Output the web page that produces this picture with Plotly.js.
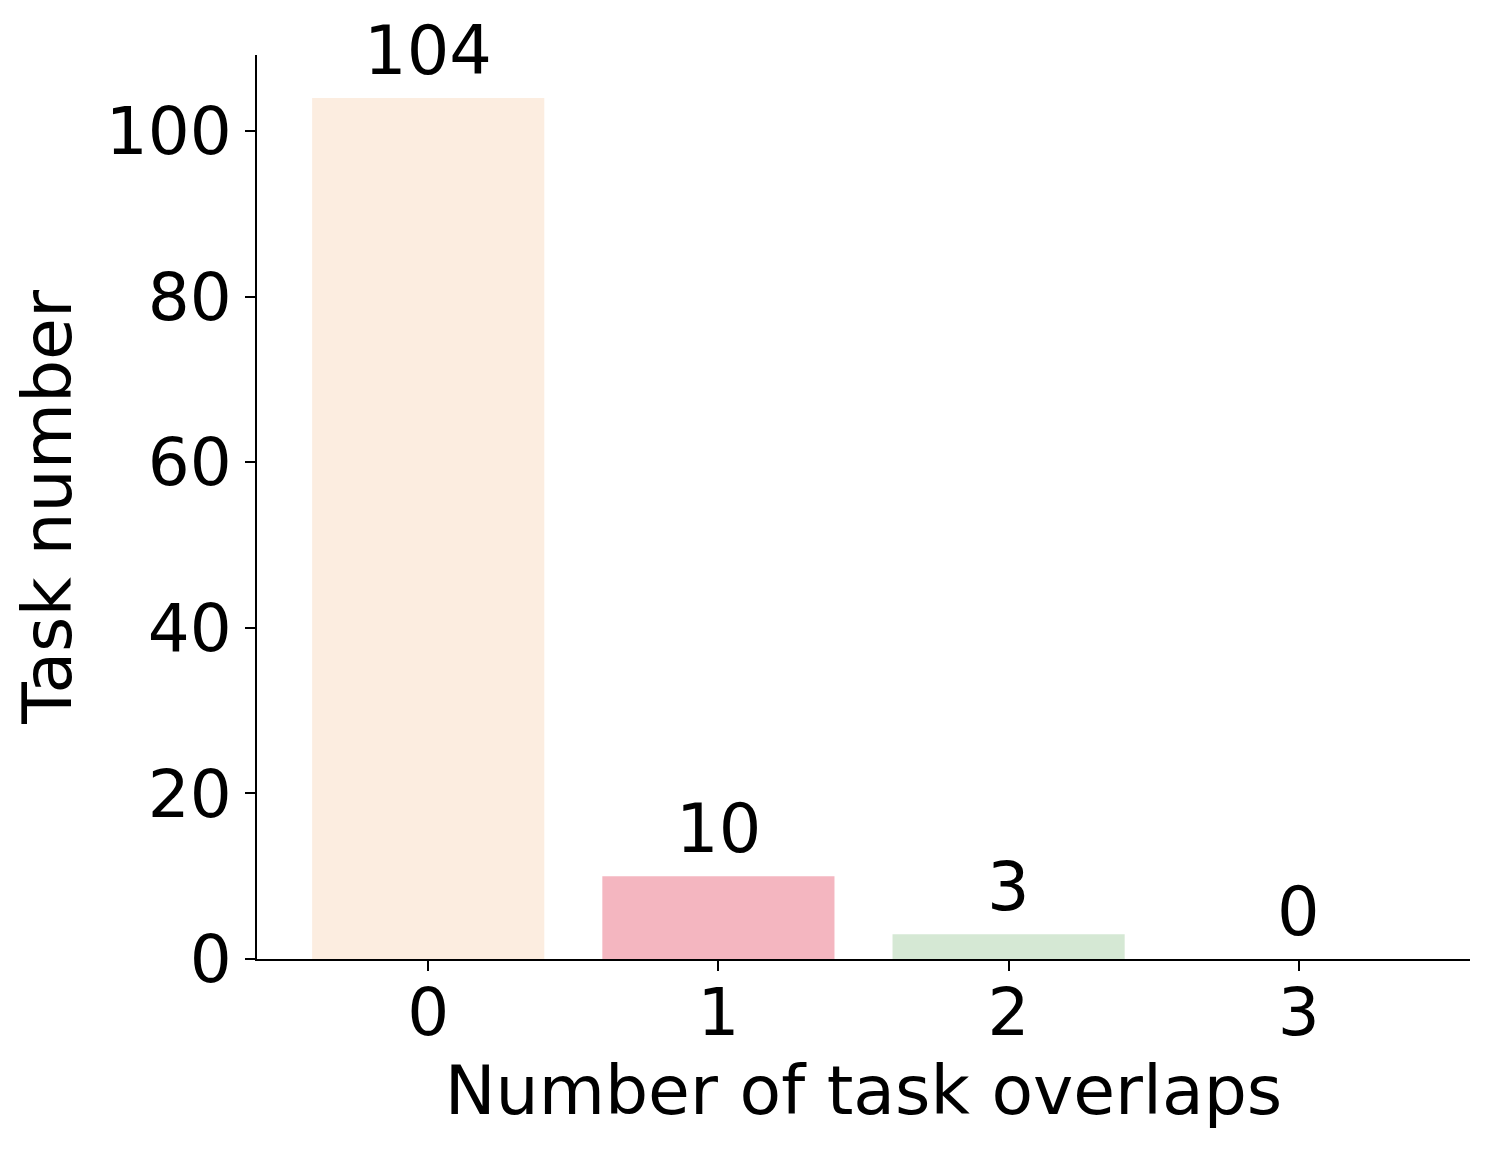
<!DOCTYPE html>
<html>
<head>
<meta charset="utf-8">
<script src="https://cdn.plot.ly/plotly-3.0.1.min.js"></script>
<style>
  html, body { margin: 0; padding: 0; background: #fff; }
  #chart { width: 1495px; height: 1153px; }
</style>
</head>
<body>
<div id="chart"></div>
<script>
// Task overlaps vs. number of tasks
const overlaps = [0, 1, 2, 3];
const taskCounts = [104, 10, 3, 0];
const barColors = ['#fcede0', '#f4b6c0', '#d5e8d4', '#d6e4f0'];

const font = 'DejaVu Sans, sans-serif';

const data = [
    {
        x: overlaps,
        y: taskCounts,
        type: 'bar',
        width: 0.8,
        marker: { color: barColors },
        hoverinfo: 'none'
    }
];

// value labels above each bar
const labels = overlaps.map((o, i) => ({
    x: o,
    y: taskCounts[i],
    text: String(taskCounts[i]),
    showarrow: false,
    yanchor: 'bottom',
    yshift: 6,
    font: { family: font, size: 67, color: '#000' }
}));

const layout = {
    width: 1495,
    height: 1153,
    margin: { l: 257, r: 25, t: 55, b: 194 },
    paper_bgcolor: '#fff',
    plot_bgcolor: '#fff',
    showlegend: false,
    xaxis: {
        range: [-0.59, 3.59],
        tickvals: overlaps,
        ticktext: overlaps.map(String),
        showgrid: false,
        zeroline: false,
        showline: true,
        linecolor: '#000',
        linewidth: 2,
        ticks: 'outside',
        ticklen: 10,
        tickwidth: 2,
        tickcolor: '#000',
        ticklabelstandoff: -15,
        tickfont: { family: font, size: 66, color: '#000' },
        title: {
            text: 'Number of task overlaps',
            font: { family: font, size: 68, color: '#000' },
            standoff: 10
        }
    },
    yaxis: {
        range: [0, 109.2],
        tickvals: [0, 20, 40, 60, 80, 100],
        showgrid: false,
        zeroline: false,
        showline: true,
        linecolor: '#000',
        linewidth: 2,
        ticks: 'outside',
        ticklen: 10,
        tickwidth: 2,
        tickcolor: '#000',
        tickfont: { family: font, size: 66, color: '#000' },
        title: {
            text: 'Task number',
            font: { family: font, size: 68, color: '#000' },
            standoff: 12
        }
    },
    annotations: labels
};

Plotly.newPlot('chart', data, layout, { staticPlot: true });
</script>
</body>
</html>
